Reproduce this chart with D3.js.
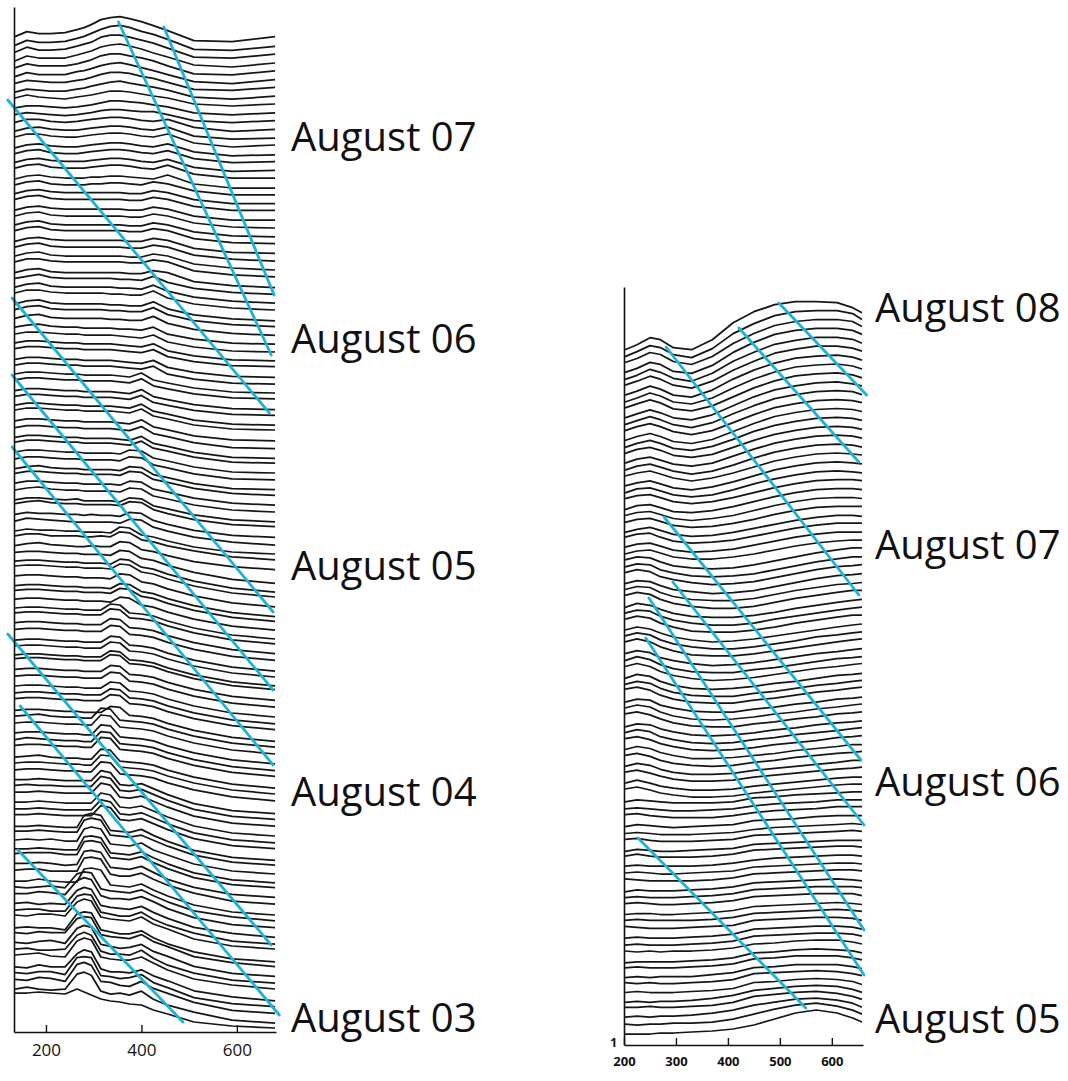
<!DOCTYPE html>
<html>
<head>
<meta charset="utf-8">
<script src="https://cdn.jsdelivr.net/npm/d3@7"></script>
<style>
  html, body { margin: 0; background: #ffffff; }
  svg { display: block; }
</style>
</head>
<body>
<svg id="chart" width="1068" height="1081"></svg>
<script>
// ---------------------------------------------------------------
// Stacked daily spectra (waterfall). Each row is one spectrum:
// intensity at the sampled wavelengths (nm). Rows run bottom -> top.
// ---------------------------------------------------------------

const leftWavelengths  = [135,160,185,210,240,265,280,295,315,335,355,375,400,425,455,510,590,680];
const rightWavelengths = [202,225,250,270,295,330,370,410,450,490,530,570,610,640,658];

const leftTicks  = [200, 400, 600];
const rightTicks = [200, 300, 400, 500, 600];
const rightLevelTicks = [1];

const leftDays  = ["August 03", "August 04", "August 05", "August 06", "August 07"];
const rightDays = ["August 05", "August 06", "August 07", "August 08"];

// left instrument, August 03
const leftAug03 = [
  [39,39,40,39,38,43,40,37,33,31,30,28,27,22,18,10,6,4],
  [35,37,35,34,35,50,52,49,33,30,31,29,33,25,19,12,4,1],
  [37,36,39,38,35,52,54,51,35,34,31,30,35,28,23,14,6,3],
  [36,35,37,37,34,51,52,51,33,32,30,31,34,26,21,11,5,2],
  [34,33,36,34,34,47,51,49,32,29,29,28,31,25,20,10,4,0],
  [38,39,40,37,36,52,55,53,36,34,33,33,36,30,23,14,8,4],
  [36,37,35,35,36,50,53,50,34,31,31,30,35,27,20,12,5,2],
  [35,34,36,37,34,49,52,50,33,31,29,30,33,26,21,11,4,1],
  [37,36,38,37,37,51,53,52,35,33,32,31,35,28,23,13,7,3],
  [34,35,34,34,32,48,50,49,32,30,28,28,31,24,18,10,3,0],
  [39,38,40,40,38,52,55,53,37,35,34,33,37,30,25,15,8,5],
  [36,37,37,35,35,50,52,51,34,32,30,30,34,27,21,13,5,2],
  [35,36,34,35,34,48,51,49,33,31,30,29,32,26,20,11,5,1],
  [37,37,39,38,36,50,53,51,35,32,32,31,34,29,22,13,6,3],
  [36,35,36,37,35,49,51,50,34,32,31,30,33,27,21,12,6,2],
  [34,34,36,34,33,33,46,47,45,30,29,28,31,25,19,10,3,0],
  [37,38,38,36,36,36,49,50,48,33,31,31,34,28,22,14,6,3],
  [36,36,37,36,34,35,48,49,47,32,31,30,33,27,20,12,5,2],
  [38,39,39,39,37,37,50,51,49,34,33,32,35,29,23,14,7,4],
  [35,35,36,35,34,34,47,48,46,31,30,29,32,26,20,11,4,1],
  [36,37,36,37,35,35,47,49,47,32,31,30,33,26,21,12,5,2],
  [37,37,38,37,36,36,48,50,48,33,32,31,33,28,22,13,6,3],
  [34,34,35,34,33,33,45,47,45,30,29,28,31,25,19,10,3,0],
  [38,38,39,38,37,37,37,37,47,45,33,32,34,29,23,14,7,4],
  [36,36,37,36,35,35,35,35,45,43,31,30,32,27,21,12,5,2],
  [35,35,36,35,34,34,34,34,44,42,30,29,31,26,20,11,4,1],
  [37,37,38,37,36,36,36,36,46,44,32,31,33,28,22,13,6,3],
  [36,37,36,36,35,35,35,35,45,43,31,30,32,27,21,12,5,2],
  [34,34,35,34,33,33,33,33,43,41,29,28,30,25,19,10,3,0]
];

// left instrument, August 04
const leftAug04 = [
  [36,37,37,36,35,35,34,34,44,43,32,31,30,28,23,16,9,5],
  [35,36,36,35,34,34,33,33,43,42,31,30,29,27,22,15,8,4],
  [33,34,35,33,32,32,31,31,41,40,29,28,27,25,20,13,6,2],
  [37,38,38,37,36,36,35,35,45,44,33,32,31,29,24,17,10,6],
  [35,37,36,35,34,34,33,33,43,42,31,30,29,27,22,15,8,4],
  [34,35,35,34,33,33,32,32,42,41,30,29,28,26,21,14,7,3],
  [36,37,37,36,35,35,34,34,44,43,32,31,30,28,23,16,9,5],
  [35,36,37,35,34,34,33,33,43,42,31,30,29,27,22,15,8,4],
  [33,34,34,33,32,32,31,31,31,37,36,28,27,25,20,13,6,2],
  [37,38,38,37,36,36,35,35,35,41,40,32,31,29,24,17,10,6],
  [35,36,36,35,34,34,33,33,33,39,38,30,29,27,22,15,8,4],
  [34,35,35,34,33,33,32,32,32,38,37,29,28,26,21,14,7,3],
  [36,37,37,36,35,35,34,34,34,40,39,31,30,28,23,16,9,5],
  [35,36,36,35,34,34,33,33,33,39,38,30,29,27,22,15,8,4],
  [38,39,39,38,37,37,36,36,36,42,41,33,32,30,25,18,11,7],
  [34,35,35,34,33,33,32,32,32,38,37,29,28,26,21,14,7,3],
  [35,36,36,35,34,34,33,33,33,39,38,30,29,27,22,15,8,4],
  [33,34,34,33,32,32,31,31,31,37,36,28,27,25,20,13,6,2],
  [36,37,37,36,35,35,34,34,34,40,39,31,30,28,23,16,9,5],
  [35,36,36,35,34,34,33,33,33,39,38,30,29,27,22,15,8,4],
  [37,38,38,37,36,36,35,35,35,41,40,32,31,29,24,17,10,6],
  [34,35,35,34,33,33,32,32,32,38,37,29,28,26,21,14,7,3],
  [35,36,36,35,34,34,33,33,33,32,37,36,29,27,22,15,8,4],
  [36,37,37,36,35,35,34,34,34,33,38,37,30,28,23,16,9,5],
  [33,34,34,33,32,32,31,31,31,30,35,34,27,25,20,13,6,2],
  [35,36,36,35,34,34,33,33,33,32,37,36,29,27,22,15,8,4],
  [37,38,38,37,36,36,35,35,35,34,39,38,31,29,24,17,10,6],
  [34,35,35,34,33,33,32,32,32,31,36,35,28,26,21,14,7,3],
  [35,36,36,35,34,34,33,33,33,32,37,36,29,27,22,15,8,4]
];

// left instrument, August 05
const leftAug05 = [
  [34,36,37,35,34,33,33,34,33,33,38,37,30,28,24,18,13,10],
  [36,38,38,36,36,36,35,35,36,35,40,39,32,30,26,21,15,12],
  [33,35,34,34,33,33,32,32,32,31,37,36,29,27,23,17,12,10],
  [35,38,37,36,35,34,34,34,34,34,33,37,36,29,25,19,14,11],
  [34,36,35,35,34,34,33,34,33,33,32,36,35,28,24,18,13,11],
  [37,39,40,38,37,37,36,36,36,36,35,39,38,31,27,21,16,14],
  [33,35,35,34,33,34,32,32,32,32,31,35,34,27,24,18,13,11],
  [35,37,38,36,35,35,34,34,34,34,33,37,36,29,26,20,15,13],
  [34,36,36,35,34,34,33,33,33,33,32,36,35,28,25,19,14,12],
  [36,38,38,37,36,36,35,35,35,35,34,38,37,30,27,21,16,14],
  [33,35,36,34,33,33,32,32,32,32,31,35,34,27,24,18,13,12],
  [35,37,37,36,35,35,34,34,34,34,33,37,36,29,26,20,15,14],
  [34,36,36,35,34,34,33,33,33,33,32,36,35,28,25,19,14,13],
  [36,38,38,37,36,36,35,35,35,35,34,33,37,30,27,21,16,15],
  [33,35,35,34,33,33,32,32,32,32,31,30,34,27,24,18,13,12],
  [35,37,37,36,35,35,34,34,34,34,33,32,36,29,26,20,15,14],
  [34,36,36,35,34,34,33,33,33,33,32,31,35,28,25,19,15,14],
  [37,39,39,38,37,37,36,36,36,36,35,34,38,31,28,22,18,17],
  [34,36,36,35,34,34,33,33,33,33,32,31,35,28,25,19,15,14],
  [35,37,37,36,35,35,34,34,34,34,33,32,36,29,26,21,17,16],
  [33,35,35,34,33,33,32,32,32,32,31,30,34,27,24,19,15,14],
  [36,38,38,37,36,36,35,35,35,35,34,33,37,30,27,22,18,17],
  [34,36,36,35,34,34,33,33,33,33,32,31,35,28,25,20,16,15],
  [35,37,37,36,35,35,34,34,34,34,33,32,31,34,26,21,17,16],
  [33,35,35,34,33,33,32,32,32,32,31,30,29,32,25,20,16,15],
  [36,38,38,37,36,36,35,35,35,35,34,33,32,35,28,23,19,18],
  [34,36,36,35,34,34,33,33,33,33,32,31,30,33,26,21,17,16],
  [35,37,37,36,35,35,34,34,34,34,33,32,31,34,27,22,18,17],
  [34,36,37,35,34,34,33,33,33,33,32,32,31,34,27,22,18,17]
];

// left instrument, August 06
const leftAug06 = [
  [35,38,39,36,35,35,35,35,35,34,34,33,33,37,30,24,20,18],
  [36,39,40,37,36,36,36,36,36,35,35,34,34,38,31,25,21,19],
  [34,37,38,35,34,34,34,34,34,33,33,32,32,36,29,23,19,17],
  [37,40,40,38,37,37,37,37,37,36,36,35,35,39,32,26,22,20],
  [35,38,39,36,35,35,35,35,35,35,34,34,33,37,31,25,21,19],
  [36,38,40,37,36,36,36,36,36,36,35,35,34,38,32,26,22,20],
  [34,37,38,35,34,34,34,34,34,34,34,33,33,36,34,25,21,19],
  [37,40,40,38,37,37,37,37,37,37,37,36,36,39,37,28,24,22],
  [35,38,39,36,35,35,35,35,35,35,35,34,34,37,35,27,23,21],
  [36,39,40,37,36,36,36,36,36,36,36,35,35,38,36,28,24,22],
  [34,37,38,36,35,35,35,35,35,35,35,34,34,37,35,27,23,22],
  [37,40,41,38,37,37,37,37,37,37,37,36,36,39,37,29,25,24],
  [35,38,39,36,35,35,35,35,35,35,35,34,34,37,35,28,24,23],
  [36,39,40,37,36,36,36,36,36,36,36,35,35,38,36,29,25,24],
  [34,37,38,36,35,35,35,35,35,35,35,34,34,37,35,28,24,24],
  [37,40,41,38,37,37,37,37,37,37,37,36,36,39,37,30,26,26],
  [35,38,39,37,36,36,36,36,36,36,36,35,35,38,36,29,25,25],
  [36,39,40,37,36,36,36,37,37,38,38,37,36,39,37,30,26,26],
  [34,37,38,36,35,35,35,36,36,37,37,36,35,34,38,29,25,25],
  [37,40,41,38,37,37,37,38,39,40,40,39,37,36,40,31,27,27],
  [35,38,39,37,36,36,36,37,38,39,39,38,36,35,38,30,26,27],
  [36,39,40,37,36,36,37,38,39,40,40,39,37,36,39,31,27,28],
  [34,37,38,36,35,35,36,37,38,39,39,38,36,35,38,30,26,27],
  [37,40,40,38,37,37,38,39,40,41,41,40,38,37,40,31,27,29],
  [35,38,39,37,36,36,37,38,39,40,40,39,37,36,39,30,27,28],
  [36,39,39,37,36,37,38,39,40,41,41,40,38,37,39,31,27,29]
];

// left instrument, August 07
const leftAug07 = [
  [36,38,37,36,35,36,37,38,40,41,41,40,39,39,36,30,28,30],
  [35,37,37,36,35,36,37,38,40,42,42,41,40,38,36,30,28,30],
  [37,40,38,37,36,38,39,40,42,44,44,43,41,39,37,31,29,31],
  [35,38,37,36,36,38,39,41,43,45,46,44,42,40,37,30,28,31],
  [36,39,38,37,37,39,40,42,45,47,47,46,43,41,37,30,29,32],
  [35,39,37,37,37,40,41,43,46,48,49,47,44,41,37,30,28,32],
  [36,40,38,38,38,40,42,44,48,50,50,48,46,43,38,30,29,33],
  [35,40,38,38,38,41,43,45,49,51,52,50,47,43,39,31,29,33],
  [36,41,38,38,39,42,44,46,51,53,53,51,48,45,40,31,30,34],
  [35,40,38,38,39,42,44,47,51,54,55,53,49,46,41,31,30,34],
  [36,41,39,39,40,43,45,48,53,55,56,54,51,47,42,32,31,36]
];

// right instrument, August 05
const rightAug05 = [
  [12,12,12,13,13,14,15,17,21,27,33,36,33,28,24],
  [14,13,14,14,15,15,16,19,24,29,33,35,32,28,24],
  [13,14,13,14,14,15,17,20,25,28,31,32,30,27,23],
  [15,15,16,15,15,16,17,20,26,28,30,31,29,26,23],
  [12,13,12,13,13,14,16,19,24,26,28,29,28,25,22],
  [14,15,14,14,14,15,16,18,24,25,27,28,27,25,22],
  [16,15,16,15,15,16,17,19,25,26,27,28,27,25,23],
  [13,14,13,14,14,14,16,18,23,24,26,26,26,24,22],
  [15,16,15,15,15,16,17,19,24,25,27,27,27,25,23],
  [12,13,13,13,13,14,15,17,22,23,25,26,25,24,22],
  [16,15,16,15,16,16,17,19,23,24,26,27,27,25,23],
  [14,15,14,14,14,15,16,18,23,24,25,26,26,25,23],
  [13,14,13,13,13,14,15,17,22,23,24,25,25,24,22],
  [17,16,15,15,15,16,17,18,23,24,25,26,26,25,23],
  [15,16,15,15,15,15,16,18,22,23,24,25,26,25,24],
  [13,14,14,13,13,14,15,17,21,22,23,24,25,24,23],
  [16,17,16,15,15,16,17,19,23,24,25,26,26,26,24],
  [14,15,14,14,14,15,16,18,22,23,24,25,25,25,24],
  [12,14,13,13,13,14,15,17,21,22,23,24,25,24,23],
  [17,16,15,15,15,15,16,18,22,23,24,25,26,26,25],
  [15,16,15,14,14,15,16,17,21,22,23,24,25,25,24],
  [14,15,14,14,14,14,15,17,20,22,23,24,25,25,24],
  [16,18,16,15,15,15,16,18,22,23,24,25,26,26,25],
  [13,15,14,13,13,14,15,16,20,21,22,23,24,24,24],
  [17,18,16,15,15,15,16,17,21,22,23,24,25,26,25],
  [15,16,15,14,14,14,15,16,19,21,22,23,24,25,24],
  [14,16,15,14,13,14,15,16,20,21,22,24,25,25,25],
  [18,19,17,16,15,15,15,17,20,22,23,24,26,26,26],
  [16,17,16,15,14,14,15,16,19,21,22,23,25,25,25],
  [15,17,16,15,14,14,14,15,19,20,22,23,24,25,25]
];

// right instrument, August 06
const rightAug06 = [
  [20,22,19,16,14,12,12,13,16,18,20,22,24,25,25],
  [18,21,18,15,13,11,11,12,15,17,19,21,23,24,24],
  [21,23,20,17,14,12,12,13,16,18,20,22,24,25,26],
  [19,22,20,16,13,11,11,12,15,17,19,21,23,25,25],
  [22,24,21,17,14,12,11,12,15,17,20,22,24,25,26],
  [20,23,21,17,14,11,11,12,14,16,19,21,23,25,25],
  [23,25,22,18,15,12,11,12,14,17,19,21,24,25,26],
  [21,24,22,17,14,11,10,11,14,16,19,21,23,25,26],
  [19,22,21,17,14,11,10,11,13,16,18,21,23,24,25],
  [24,26,23,19,15,12,11,11,14,16,19,21,24,25,26],
  [22,25,23,18,14,11,10,11,13,16,18,21,23,25,26],
  [20,23,22,17,14,11,10,10,13,15,18,20,23,24,25],
  [25,27,24,19,15,12,11,11,14,16,19,22,24,26,27],
  [22,25,23,18,14,11,10,10,13,15,18,21,23,25,26],
  [20,24,22,17,13,10,9,10,12,15,17,20,23,24,25],
  [24,27,24,19,15,12,10,11,13,16,19,22,24,26,27],
  [22,26,23,18,14,11,10,10,13,15,18,21,24,25,26],
  [21,24,22,17,14,11,9,10,12,15,18,21,23,25,26],
  [25,28,25,20,16,12,11,11,13,16,19,22,25,27,28],
  [23,26,24,19,15,12,10,10,12,15,18,22,24,26,27],
  [21,24,22,18,14,11,9,10,12,15,18,21,24,26,27],
  [24,27,25,20,16,12,11,11,13,16,20,23,26,28,28],
  [22,25,24,19,15,12,10,10,12,16,19,22,25,27,28],
  [20,24,22,18,14,11,10,10,12,15,19,22,25,27,28],
  [24,27,25,20,16,13,11,11,13,17,21,24,27,29,29],
  [22,25,24,19,15,12,11,11,13,17,21,24,27,28,29],
  [20,23,22,18,14,12,10,11,13,17,21,25,28,29,30],
  [23,26,24,19,16,13,11,12,14,18,22,26,29,30,31],
  [21,24,23,18,15,12,11,12,14,18,22,26,29,31,31],
  [20,23,22,18,14,12,11,12,15,19,23,27,30,32,32]
];

// right instrument, August 07
const rightAug07 = [
  [18,21,22,19,15,13,13,15,18,22,26,29,31,32,32],
  [17,20,21,18,14,12,13,15,19,23,27,30,32,32,32],
  [19,22,23,19,15,13,14,16,20,24,28,31,33,33,33],
  [16,19,21,18,14,12,13,16,20,24,28,31,33,33,32],
  [18,21,22,19,15,13,14,17,21,26,30,33,34,34,34],
  [17,20,21,18,14,12,14,17,22,27,31,34,35,35,34],
  [15,19,20,17,13,12,14,18,23,28,32,35,36,36,35],
  [18,21,22,19,15,13,15,19,24,29,33,36,37,37,36],
  [16,20,21,18,14,12,14,19,25,30,34,37,38,37,36],
  [15,18,20,17,13,11,14,19,25,31,35,38,39,38,37],
  [17,20,22,19,15,12,15,20,26,32,36,39,40,39,38],
  [15,19,21,18,14,11,14,20,27,33,37,40,41,40,38],
  [14,18,20,17,13,11,14,21,28,34,38,41,42,41,39],
  [16,20,22,19,14,12,15,22,29,35,39,42,43,42,40],
  [14,18,21,18,13,11,15,22,30,36,40,43,44,43,41],
  [13,17,20,17,12,10,14,22,30,37,41,44,45,44,42],
  [15,19,22,19,14,11,15,23,31,38,42,45,46,45,43],
  [13,17,21,18,13,10,15,24,32,39,43,46,47,46,43],
  [12,16,20,17,12,10,15,24,33,40,44,47,48,46,44],
  [14,18,22,19,13,11,16,25,34,41,46,48,49,47,44],
  [12,16,21,18,12,10,16,26,35,42,47,49,50,48,45],
  [11,15,20,17,11,9,16,27,36,43,48,50,51,49,46],
  [13,17,22,19,13,10,17,28,37,45,49,52,52,50,47],
  [11,15,21,18,12,9,17,29,38,46,50,53,53,51,47],
  [10,14,20,18,11,9,17,30,40,48,52,54,54,52,48],
  [12,16,22,20,13,10,18,31,41,49,53,55,55,53,48],
  [10,15,21,19,12,9,18,33,43,51,55,56,56,53,47],
  [9,14,21,19,11,9,19,36,47,54,57,57,56,51,46]
];

// Guide lines across the stack: [wavelength, level, wavelength, level]
const leftGuides = [
  [352,1010,672,677],
  [447,1005,678,737],
  [120,932,668,619],
  [129,734,676,420],
  [129,657,676,342],
  [129,585,676,267],
  [120,398,672,87],
  [146,326,689,17],
  [141,182,487,10]
];
const rightGuides = [
  [498,743,667,651],
  [421,718,652,584],
  [281,699,652,451],
  [277,529,656,286],
  [294,464,662,221],
  [248,448,662,116],
  [242,408,662,71],
  [227,208,550,38]
];

// ---------------------------------------------------------------
// Drawing
// ---------------------------------------------------------------
const svg = d3.select("#chart");
const FONT = "'Open Sans', 'Noto Sans', sans-serif";

function drawPanel(cfg) {
  const x = d3.scaleLinear().domain(cfg.xDomain).range(cfg.xRange);
  const y = d3.scaleLinear().domain(cfg.yDomain).range(cfg.yRange);
  const g = svg.append("g");

  const rows = cfg.bands.flat();
  const line = d3.line()
    .x((d, j) => x(cfg.wavelengths[j]))
    .y(d => y(d))
    .curve(d3.curveLinear);

  g.append("g")
    .selectAll("path")
    .data(rows)
    .join("path")
    .attr("d", (row, i) => line(row.map(v => v + i * cfg.step)))
    .attr("fill", "none")
    .attr("stroke", "#161616")
    .attr("stroke-width", 1.75)
    .attr("stroke-linejoin", "round");

  g.append("g")
    .selectAll("line")
    .data(cfg.guides)
    .join("line")
    .attr("x1", d => x(d[0])).attr("y1", d => y(d[1]))
    .attr("x2", d => x(d[2])).attr("y2", d => y(d[3]))
    .attr("stroke", "#1fb2d9")
    .attr("stroke-width", 2.8)
    .attr("stroke-linecap", "round");

  // x axis (ticks point into the plot)
  const xAxis = g.append("g")
    .attr("transform", `translate(0,${cfg.yRange[0]})`)
    .call(d3.axisBottom(x).tickValues(cfg.ticks).tickFormat(d3.format("d"))
      .tickSizeInner(-7).tickSizeOuter(0).tickPadding(cfg.tickPadding));
  xAxis.select(".domain").attr("stroke", "#111").attr("stroke-width", 1.6);
  xAxis.selectAll(".tick line").attr("stroke", "#111").attr("stroke-width", 1.4);
  xAxis.selectAll(".tick text")
    .attr("font-family", FONT).attr("font-size", cfg.tickFont)
    .attr("font-weight", cfg.tickWeight).attr("fill", "#111");

  // y axis
  const yAxis = g.append("g")
    .attr("transform", `translate(${cfg.xRange[0]},0)`)
    .call(d3.axisLeft(y).tickValues(cfg.levelTicks).tickFormat(d3.format("d"))
      .tickSize(0).tickSizeOuter(0).tickPadding(7));
  yAxis.select(".domain").attr("stroke", "#111").attr("stroke-width", 1.6);
  yAxis.selectAll(".tick text")
    .attr("font-family", FONT).attr("font-size", 12)
    .attr("font-weight", 700).attr("fill", "#111")
    .attr("dy", "0.1em");

  // day labels
  g.append("g")
    .selectAll("text")
    .data(cfg.days)
    .join("text")
    .attr("x", cfg.labelX)
    .attr("y", (d, k) => y(cfg.labelRow(k) * cfg.step) + cfg.labelShift)
    .attr("font-family", FONT)
    .attr("font-size", 40)
    .attr("fill", "#111")
    .text(d => d);
}

const leftBands = [leftAug03, leftAug04, leftAug05, leftAug06, leftAug07];
const leftStarts = leftBands.map((b, k) => d3.sum(leftBands.slice(0, k), s => s.length));

drawPanel({
  wavelengths: leftWavelengths,
  bands: leftBands,
  step: 7.8,
  xDomain: [133, 682], xRange: [14, 276],
  yDomain: [0, 1025], yRange: [1032, 7],
  ticks: leftTicks, levelTicks: [],
  tickPadding: 12, tickFont: 17, tickWeight: 400,
  guides: leftGuides,
  days: leftDays,
  labelX: 291,
  labelRow: k => leftStarts[k],
  labelShift: 0
});

const rightBands = [rightAug05, rightAug06, rightAug07];
const rightDayLength = rightBands[0].length;

drawPanel({
  wavelengths: rightWavelengths,
  bands: rightBands,
  step: 7.9,
  xDomain: [200, 660], xRange: [624, 863],
  yDomain: [1, 759], yRange: [1045, 287],
  ticks: rightTicks, levelTicks: rightLevelTicks,
  tickPadding: 12, tickFont: 13, tickWeight: 700,
  guides: rightGuides,
  days: rightDays,
  labelX: 875,
  labelRow: k => k * rightDayLength,
  labelShift: -13
});
</script>
</body>
</html>
